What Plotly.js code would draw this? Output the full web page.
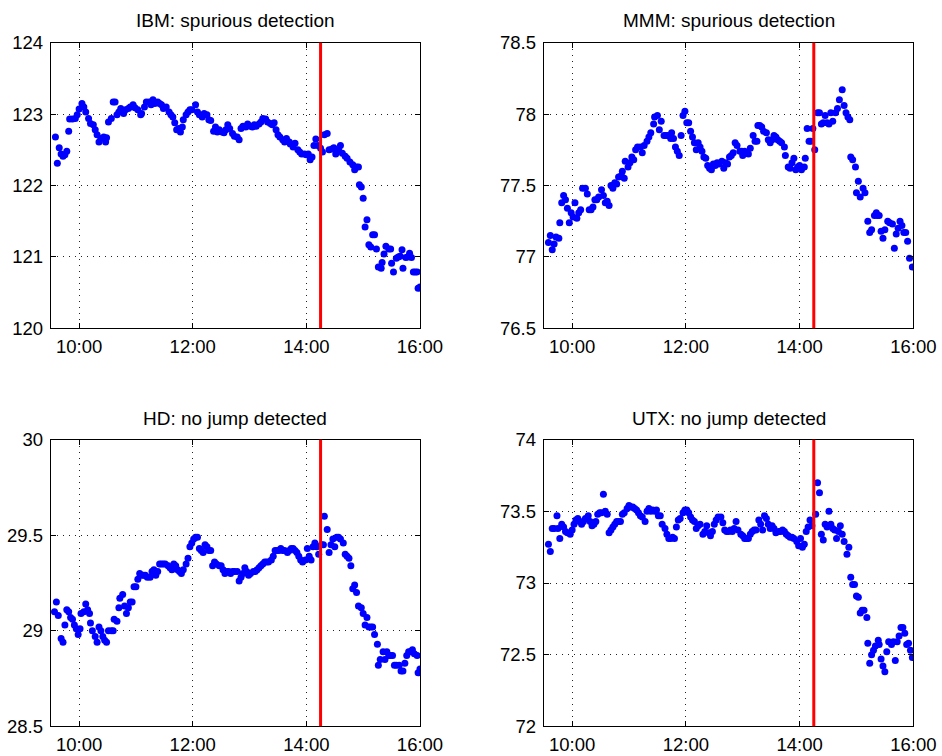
<!DOCTYPE html>
<html>
<head>
<meta charset="utf-8">
<script src="https://cdn.plot.ly/plotly-3.0.1.min.js"></script>
<style>
html,body{margin:0;padding:0;background:#ffffff;}
#chart{width:942px;height:756px;}
</style>
</head>
<body>
<div id="chart"></div>
<script>
// ---- data (times are minutes after 9:30, prices in dollars) ----
const TICK_HOURS = [10, 12, 14, 16];
const TICK_LABELS = ['10:00', '12:00', '14:00', '16:00'];
const SESSION_START_HOUR = 9.5;   // 9:30
const SESSION_END_HOUR = 16;      // 16:00
const DETECTION_MIN = 285;        // 14:15
const PANEL_TITLES = ['IBM: spurious detection', 'MMM: spurious detection', 'HD: no jump detected', 'UTX: no jump detected'];
const Y_RANGES = [[120, 124], [76.5, 78.5], [28.5, 30], [72, 74]];
const Y_STEPS = [1, 0.5, 0.5, 0.5];

const ibmMin = [5,7,9,11,13,15,17,19,20,23,26,28,30,33,35,37,40,42,45,47,49,51,53,56,58,59,61,64,66,68,70,72,74,77,79,82,84,87,89,92,95,96,99,101,104,106,108,110,113,115,117,119,122,125,127,129,131,133,135,137,139,140,143,145,147,149,153,155,157,160,162,165,167,169,172,174,176,178,181,183,185,187,189,192,194,197,199,201,203,206,208,211,213,215,217,220,222,224,227,229,232,234,236,238,240,242,245,247,249,252,253,256,258,261,263,265,268,270,272,274,276,278,280,282,285,287,289,292,294,297,299,301,304,306,308,311,313,316,319,321,323,325,326,328,330,332,334,336,338,340,342,344,346,349,350,352,354,357,359,360,362,365,367,369,371,372,375,377,379,381,383,385,387,388,390];
const ibmPrice = [122.68,122.31,122.53,122.44,122.41,122.43,122.48,122.76,122.93,122.93,
122.94,122.99,123.07,123.15,123.10,123.03,122.94,122.87,122.85,122.78,
122.71,122.61,122.66,122.68,122.61,122.67,122.89,122.94,123.17,123.17,
122.99,123.03,123.08,123.01,123.06,123.08,123.10,123.13,123.09,123.06,
122.99,123.01,123.10,123.17,123.17,123.13,123.20,123.15,123.17,123.15,
123.13,123.08,123.10,123.03,122.99,122.96,122.88,122.78,122.80,122.75,
122.82,122.92,122.99,123.03,123.06,123.06,123.13,123.03,122.99,122.96,
123.01,122.99,122.92,122.91,122.76,122.82,122.75,122.78,122.75,122.74,
122.78,122.85,122.80,122.73,122.69,122.68,122.64,122.80,122.83,122.82,
122.86,122.83,122.82,122.85,122.83,122.86,122.89,122.94,122.93,122.89,
122.87,122.85,122.88,122.78,122.71,122.68,122.64,122.61,122.66,122.61,
122.58,122.54,122.59,122.50,122.47,122.44,122.44,122.43,122.44,122.36,
122.40,122.56,122.65,122.56,122.52,122.47,122.71,122.73,122.50,122.51,
122.53,122.44,122.50,122.56,122.45,122.41,122.38,122.33,122.29,122.22,
122.26,122.26,122.01,121.98,121.82,121.42,121.52,121.17,121.14,121.31,
121.31,121.11,120.86,120.84,120.92,121.04,121.15,121.11,121.11,120.91,
120.79,120.98,121.00,121.01,121.10,120.84,120.99,121.00,121.05,120.99,
120.79,120.79,120.79,120.56,120.58];

const mmmMin = [5,7,9,11,13,16,17,19,21,23,25,27,29,31,33,35,37,39,41,44,46,48,50,52,54,56,58,61,63,65,67,69,71,73,75,77,79,82,83,85,86,89,91,93,95,97,99,102,104,106,109,111,113,116,117,120,122,124,127,129,131,134,135,137,139,141,143,145,147,149,151,153,155,157,159,161,163,165,167,169,171,173,175,177,179,181,183,185,188,190,192,194,196,198,200,202,204,207,209,210,212,214,216,218,221,223,225,226,228,230,232,235,237,239,241,243,245,247,249,251,254,255,258,260,262,264,266,268,270,272,275,276,278,280,282,284,286,289,291,293,295,297,299,301,303,305,308,310,312,315,317,319,321,323,324,326,329,330,332,334,337,339,342,344,346,349,351,352,354,356,358,360,363,365,368,370,372,374,376,378,380,382,384,386,389];
const mmmPrice = [77.10,77.15,77.05,77.09,77.14,77.13,77.24,77.38,77.43,77.40,
77.34,77.24,77.31,77.28,77.38,77.27,77.31,77.33,77.48,77.48,
77.44,77.33,77.33,77.35,77.40,77.40,77.42,77.47,77.43,77.38,
77.39,77.36,77.50,77.48,77.52,77.51,77.56,77.57,77.60,77.55,
77.67,77.63,77.66,77.70,77.68,77.75,77.77,77.77,77.73,77.78,
77.81,77.84,77.87,77.93,77.98,77.99,77.89,77.95,77.85,77.85,
77.85,77.83,77.87,77.83,77.77,77.74,77.71,77.85,77.99,78.02,
77.94,77.94,77.88,77.84,77.80,77.75,77.80,77.77,77.74,77.70,
77.69,77.64,77.62,77.61,77.65,77.64,77.66,77.65,77.67,77.62,
77.66,77.65,77.70,77.71,77.73,77.80,77.78,77.74,77.74,77.71,
77.74,77.73,77.72,77.76,77.85,77.81,77.81,77.92,77.92,77.91,
77.88,77.87,77.82,77.80,77.82,77.85,77.84,77.82,77.81,77.80,
77.77,77.71,77.63,77.62,77.66,77.69,77.61,77.63,77.64,77.61,
77.63,77.69,77.90,77.81,77.81,77.90,77.75,78.01,78.01,77.93,
77.94,77.99,77.94,77.93,78.01,77.95,78.01,78.04,78.10,78.17,
78.06,78.01,77.98,77.96,77.70,77.68,77.63,77.45,77.53,77.42,
77.48,77.45,77.25,77.17,77.19,77.29,77.31,77.29,77.29,77.18,
77.13,77.19,77.25,77.24,77.23,77.06,77.16,77.20,77.25,77.22,
77.17,77.17,77.11,76.99,76.93];

const hdMin = [4,6,8,11,13,15,17,19,21,23,25,27,29,31,32,35,37,39,41,42,44,47,49,51,53,55,57,59,61,64,66,67,70,72,73,76,78,80,82,84,86,88,90,92,94,96,98,100,102,105,107,109,111,113,115,117,119,121,124,126,128,130,132,134,136,138,140,143,145,147,149,151,153,155,157,159,161,163,165,167,169,171,173,175,178,180,182,184,186,188,190,192,194,197,199,201,203,205,207,209,211,214,216,218,220,222,224,226,228,230,233,235,237,239,241,243,245,247,250,252,254,256,258,260,262,264,266,269,271,273,275,277,279,281,283,286,288,289,292,294,296,298,300,302,304,306,309,311,313,315,317,319,321,323,325,328,330,332,334,336,338,340,342,345,346,348,351,353,355,357,359,361,363,365,368,370,372,374,376,378,380,382,384,387,388,390];
const hdPrice = [29.10,29.15,29.08,28.96,28.94,29.03,29.11,29.10,29.07,29.06,
29.03,29.01,28.98,29.01,29.09,29.10,29.14,29.11,29.09,29.04,
29.00,28.97,28.94,29.02,29.00,28.97,28.95,28.94,29.00,29.00,
29.00,29.06,29.05,29.12,29.17,29.19,29.13,29.09,29.12,29.15,
29.15,29.23,29.23,29.27,29.30,29.29,29.29,29.29,29.28,29.28,
29.31,29.32,29.29,29.31,29.35,29.35,29.35,29.35,29.34,29.33,
29.32,29.35,29.34,29.32,29.31,29.30,29.32,29.35,29.38,29.44,
29.46,29.48,29.49,29.49,29.43,29.42,29.41,29.45,29.44,29.42,
29.42,29.34,29.36,29.35,29.34,29.34,29.32,29.30,29.31,29.31,
29.30,29.31,29.31,29.31,29.26,29.28,29.30,29.33,29.31,29.29,
29.30,29.31,29.31,29.32,29.33,29.34,29.35,29.36,29.36,29.36,
29.37,29.39,29.42,29.42,29.42,29.43,29.42,29.42,29.41,29.42,
29.43,29.43,29.42,29.41,29.39,29.37,29.36,29.37,29.43,29.39,
29.37,29.44,29.46,29.44,29.40,29.45,29.45,29.60,29.53,29.41,
29.45,29.48,29.44,29.49,29.49,29.48,29.46,29.40,29.39,29.38,
29.34,29.22,29.24,29.20,29.13,29.12,29.09,29.03,29.07,29.02,
29.02,29.02,28.98,28.93,28.82,28.85,28.89,28.85,28.89,28.87,
28.87,28.87,28.82,28.82,28.82,28.79,28.79,28.83,28.87,28.89,
28.89,28.90,28.88,28.87,28.78,28.80];

const utxMin = [5,7,9,11,14,15,17,19,21,23,25,28,30,32,34,36,38,40,42,44,47,49,51,53,55,57,59,61,63,65,67,69,71,73,75,77,79,81,83,85,88,90,92,94,96,98,100,102,104,107,109,111,113,115,117,119,121,123,125,128,130,132,134,136,138,140,142,144,147,149,151,153,155,157,159,161,163,165,168,170,172,174,176,178,180,182,184,187,189,191,193,195,197,199,201,203,205,208,210,212,214,216,218,220,222,224,227,229,231,233,235,237,239,241,243,245,248,250,252,254,256,258,260,262,264,267,269,271,273,275,277,279,281,283,287,289,291,293,295,297,299,301,303,305,307,309,311,313,315,317,320,322,324,326,328,330,332,334,336,338,341,342,344,346,348,350,353,354,356,358,360,362,364,367,369,371,373,375,377,379,381,383,385,387,389];
const utxPrice = [73.27,73.22,73.38,73.38,73.47,73.38,73.31,73.41,73.39,73.36,
73.35,73.34,73.37,73.41,73.44,73.45,73.43,73.41,73.43,73.45,
73.47,73.43,73.40,73.41,73.43,73.48,73.49,73.49,73.62,73.50,
73.48,73.35,73.37,73.39,73.41,73.43,73.43,73.43,73.48,73.49,
73.52,73.54,73.53,73.53,73.52,73.51,73.49,73.47,73.46,73.43,
73.50,73.52,73.50,73.51,73.50,73.51,73.47,73.47,73.41,73.38,
73.34,73.31,73.31,73.32,73.31,73.39,73.44,73.45,73.49,73.51,
73.51,73.49,73.46,73.44,73.43,73.38,73.40,73.41,73.34,73.36,
73.40,73.35,73.33,73.36,73.41,73.44,73.46,73.46,73.42,73.37,
73.36,73.36,73.37,73.36,73.38,73.43,73.37,73.34,73.33,73.31,
73.31,73.31,73.34,73.36,73.37,73.37,73.44,73.41,73.37,73.47,
73.45,73.41,73.38,73.40,73.38,73.35,73.36,73.36,73.37,73.36,
73.34,73.33,73.32,73.32,73.31,73.29,73.26,73.31,73.25,73.27,
73.36,73.39,73.44,73.40,73.48,73.70,73.63,73.34,73.30,73.41,
73.39,73.50,73.41,73.38,73.37,73.31,73.36,73.40,73.34,73.29,
73.20,73.25,73.04,72.99,72.99,72.91,72.90,72.79,72.81,72.81,
72.76,72.58,72.44,72.50,72.53,72.56,72.60,72.57,72.47,72.42,
72.38,72.52,72.59,72.57,72.59,72.46,72.59,72.63,72.69,72.69,
72.65,72.57,72.58,72.53,72.48];

const SERIES = [[ibmMin, ibmPrice], [mmmMin, mmmPrice], [hdMin, hdPrice], [utxMin, utxPrice]];

// ---- layout geometry (pixels of the 942x756 canvas) ----
const W = 942, H = 756;
const PANELS = [
  {l: 50.7, r: 420.0, t: 42.7, b: 328.3, ty: 20.5},
  {l: 543.7, r: 913.3, t: 42.7, b: 328.3, ty: 20.5},
  {l: 50.7, r: 420.0, t: 439.7, b: 726.3, ty: 418},
  {l: 543.7, r: 913.3, t: 439.7, b: 726.3, ty: 418}
];
const FONT = 'Liberation Sans, Arial, Helvetica, sans-serif';
const toHours = mins => mins.map(m => SESSION_START_HOUR + m / 60);

const traces = [];
const layout = {
  width: W, height: H,
  margin: {l: 0, r: 0, t: 0, b: 0, pad: 0},
  paper_bgcolor: '#ffffff', plot_bgcolor: '#ffffff',
  showlegend: false,
  font: {family: FONT, size: 18, color: '#000000'},
  annotations: [], shapes: []
};

PANELS.forEach((p, i) => {
  const n = i === 0 ? '' : String(i + 1);
  const xName = 'x' + n, yName = 'y' + n;
  traces.push({
    type: 'scatter', mode: 'markers',
    x: toHours(SERIES[i][0]), y: SERIES[i][1],
    xaxis: xName, yaxis: yName,
    marker: {color: '#0000ff', size: 7, line: {width: 0}},
    hoverinfo: 'skip'
  });
  const common = {
    ticks: 'inside', ticklen: 5, tickwidth: 1, tickcolor: '#000000',
    showline: true, linecolor: '#000000', linewidth: 1, mirror: 'ticks',
    showgrid: true, gridcolor: '#222222', gridwidth: 1, griddash: '1px,5px',
    zeroline: false, fixedrange: true,
    tickfont: {family: FONT, size: 18.5, color: '#000000'}
  };
  layout['xaxis' + n] = Object.assign({}, common, {
    domain: [p.l / W, p.r / W], anchor: yName,
    range: [SESSION_START_HOUR, SESSION_END_HOUR],
    tickmode: 'array', tickvals: TICK_HOURS, ticktext: TICK_LABELS,
    ticklabelstandoff: 1
  });
  layout['yaxis' + n] = Object.assign({}, common, {
    domain: [1 - p.b / H, 1 - p.t / H], anchor: xName,
    range: Y_RANGES[i], tick0: Y_RANGES[i][0], dtick: Y_STEPS[i],
    ticklabelstandoff: 3
  });
  layout.annotations.push({
    xref: 'paper', yref: 'paper',
    x: (p.l + p.r) / 2 / W, y: 1 - p.ty / H,
    xanchor: 'center', yanchor: 'middle',
    text: PANEL_TITLES[i], showarrow: false,
    font: {family: FONT, size: 19, color: '#000000'}
  });
  layout.shapes.push({
    type: 'line', xref: xName, yref: yName + ' domain',
    x0: SESSION_START_HOUR + DETECTION_MIN / 60, x1: SESSION_START_HOUR + DETECTION_MIN / 60,
    y0: 0, y1: 1,
    line: {color: '#ff0000', width: 3}, layer: 'above'
  });
});

Plotly.newPlot('chart', traces, layout, {displayModeBar: false, staticPlot: true});
</script>
</body>
</html>
